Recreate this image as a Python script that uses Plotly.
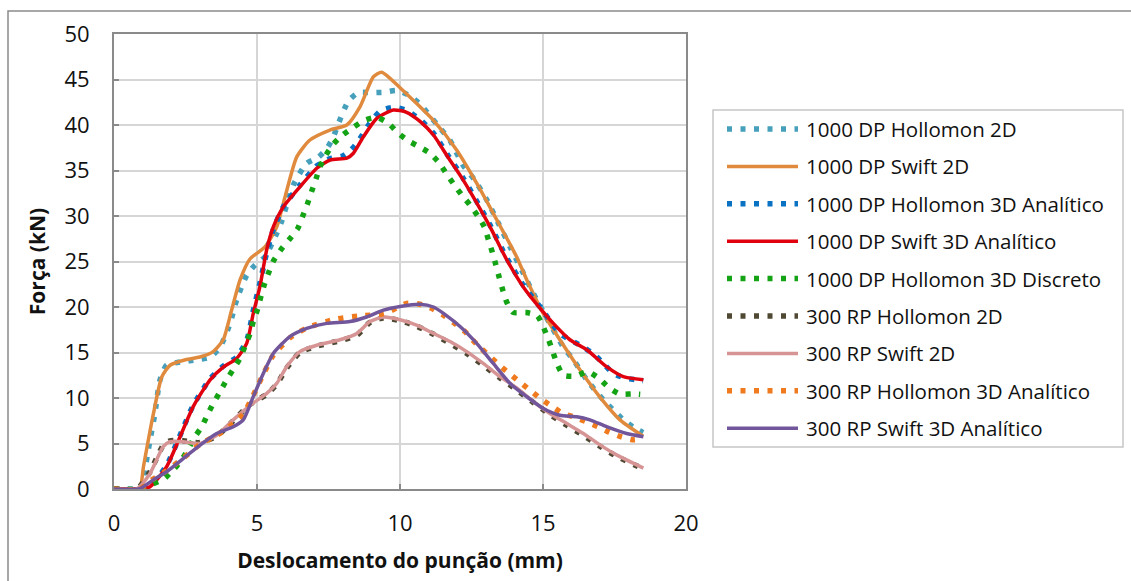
import plotly.graph_objects as go

# ---------------- data ----------------
SERIES_NAMES = [
    "1000 DP Hollomon 2D",
    "1000 DP Swift 2D",
    "1000 DP Hollomon 3D Analítico",
    "1000 DP Swift 3D Analítico",
    "1000 DP Hollomon 3D Discreto",
    "300 RP Hollomon 2D",
    "300 RP Swift 2D",
    "300 RP Hollomon 3D Analítico",
    "300 RP Swift 3D Analítico",
]

X_DP_HOL_2D = [0, 0.9, 1.03, 1.26, 1.43, 1.61, 1.84, 2.42, 2.89, 3.36, 3.71, 4.06, 4.29, 4.64, 4.93,
               5.28, 5.69, 5.86, 6.27, 6.74, 7.14, 7.44, 7.67, 7.84, 8.19, 8.54, 9.01, 9.44, 9.88,
               10.35, 10.7, 11.28, 11.75, 12.2, 12.6, 13.03, 13.44, 13.85, 14.25, 14.66, 15.2,
               15.71, 16.06, 16.53, 17.11, 17.81, 18.2, 18.5]
Y_DP_HOL_2D = [0, 0, 1.35, 5.4, 8.3, 12.0, 13.6, 14.0, 14.2, 14.5, 15.6, 18.2, 20.8, 23.5, 24.6,
               25.5, 28.1, 29.4, 33.4, 35.8, 36.45, 37.4, 38.7, 40.1, 42.6, 43.55, 43.55, 43.6, 43.8,
               43.2, 42.3, 40.1, 38.3, 35.6, 34.0, 31.8, 29.2, 26.6, 24.1, 21.5, 18.4,
               15.6, 14.2, 12.0, 9.8, 7.6, 6.7, 6.2]

X_DP_SWI_2D = [0, 0.5, 0.9, 1.03, 1.38, 1.67, 1.96, 2.5, 3.0, 3.47, 3.82, 4.1, 4.41, 4.76, 5.28,
               5.69, 5.98, 6.39, 6.85, 7.55, 8.14, 8.6, 9.07, 9.36, 10.0, 11.17, 11.98, 12.68,
               13.38, 14.08, 14.43, 15.01, 15.59, 16.29, 16.99, 17.69, 18.5]
Y_DP_SWI_2D = [0, 0, 0.1, 2.45, 8.3, 12.3, 13.6, 14.2, 14.5, 15.1, 16.4, 19.5, 23.0, 25.3, 26.6,
               28.8, 32.1, 36.5, 38.35, 39.45, 40.0, 42.0, 45.3, 45.8, 44.1, 40.5, 37.25, 33.6,
               29.6, 25.5, 23.0, 19.3, 16.4, 13.1, 10.1, 7.6, 5.8]

X_DP_HOL_3DA = [0, 0.8, 1.26, 1.84, 2.31, 2.77, 3.36, 3.82, 4.29, 4.64, 4.87, 5.1, 5.34, 5.57, 5.92,
                6.5, 7.09, 7.55, 8.0, 8.3, 8.54, 8.9, 9.3, 9.77, 10.23, 10.7, 11.17, 11.69, 12.2,
                12.56, 13.15, 13.73, 14.31, 14.9, 15.59, 16.41, 16.82, 17.11, 17.46, 17.92, 18.33, 18.5]
Y_DP_HOL_3DA = [0, 0, 0.3, 2.6, 5.9, 9.2, 12.1, 13.5, 14.5, 16.3, 19.6, 22.6, 26.0, 28.5, 31.0,
                33.4, 35.5, 36.3, 36.6, 37.3, 38.2, 40.0, 41.5, 41.95, 41.6, 40.6, 39.1, 36.6, 34.2,
                32.3, 29.0, 25.4, 22.4, 20.0, 17.1, 15.6, 14.7, 13.8, 12.7, 12.15, 12.0, 11.9]

X_DP_SWI_3DA = [0, 0.8, 1.26, 1.84, 2.31, 2.77, 3.36, 3.82, 4.29, 4.64, 4.87, 5.1, 5.34, 5.57, 5.92,
                6.5, 7.09, 7.55, 8.14, 8.37, 8.72, 9.18, 9.77, 10.23, 10.7, 11.17, 11.69, 12.2,
                12.56, 13.15, 13.73, 14.31, 14.9, 15.36, 15.94, 16.53, 17.22, 17.81, 18.51]
Y_DP_SWI_3DA = [0, 0, 0.25, 2.45, 5.75, 9.05, 12.0, 13.4, 14.35, 16.0, 19.3, 22.2, 26.3, 28.8, 31.0,
                33.2, 35.25, 36.15, 36.35, 36.9, 38.7, 40.7, 41.65, 41.4, 40.4, 38.9, 36.4, 34.0,
                32.1, 28.8, 25.2, 22.2, 19.85, 18.2, 16.4, 15.3, 13.45, 12.35, 12.0]

X_DP_HOL_3DD = [0, 0.9, 1.26, 1.72, 2.07, 2.37, 2.83, 3.07, 3.26, 3.47, 3.71, 3.94, 4.17, 4.41, 4.58,
                4.76, 4.87, 5.02, 5.14, 5.26, 5.43, 5.59, 5.86, 6.15, 6.42, 6.6, 6.76, 6.91, 7.06,
                7.2, 7.41, 7.67, 7.99, 8.37, 8.74, 9.18, 9.59, 9.92, 10.27, 10.68, 11.05, 11.38,
                11.63, 11.89, 12.16, 12.45, 12.72, 12.95, 13.09, 13.23, 13.35, 13.47, 13.59, 13.73,
                13.96, 14.41, 14.8, 15.01, 15.19, 15.34, 15.5, 15.71, 16.15, 16.56, 16.96, 17.28,
                17.67, 18.13, 18.4]
Y_DP_HOL_3DD = [0, 0, 0.45, 1.05, 2.1, 3.2, 5.75, 6.85, 8.1, 9.4, 10.7, 12.0, 13.15, 14.4, 15.7,
                17.1, 18.4, 19.75, 21.2, 22.5, 23.95, 25.15, 26.4, 27.5, 28.6, 30.0, 31.3, 32.7, 34.05,
                35.4, 36.7, 37.9, 38.9, 39.75, 40.5, 40.85, 40.2, 39.15, 38.3, 37.6, 36.9, 35.8,
                34.6, 33.45, 32.3, 31.2, 30.0, 28.8, 27.4, 26.0, 24.65, 23.25, 21.9, 20.55,
                19.4, 19.4, 19.05, 17.8, 16.45, 15.1, 13.7, 12.5, 12.4, 12.9, 12.15, 11.2,
                10.45, 10.45, 10.4]

X_RP_HOL_2D = [0, 0.8, 1.26, 1.72, 1.96, 2.42, 3.0, 3.59, 4.17, 4.76, 5.34, 5.69, 6.04, 6.5, 7.09,
               7.9, 8.49, 8.95, 9.42, 10.0, 10.58, 11.17, 11.75, 12.33, 12.91, 13.5, 14.08, 14.66,
               15.24, 15.83, 16.41, 16.99, 17.57, 18.51]
Y_RP_HOL_2D = [0, 0, 1.9, 4.8, 5.3, 5.3, 5.1, 5.8, 7.5, 9.3, 10.4, 11.5, 13.3, 15.0, 15.7,
               16.3, 16.9, 18.3, 18.8, 18.5, 17.9, 17.0, 16.0, 14.9, 13.6, 12.2, 10.9, 9.5,
               8.2, 7.0, 5.9, 4.7, 3.6, 2.2]

X_RP_SWI_2D = [0, 0.79, 1.26, 1.72, 1.96, 2.42, 3.0, 3.59, 4.17, 4.76, 5.34, 5.69, 6.04, 6.5, 7.09,
               7.9, 8.49, 8.95, 9.42, 10.0, 10.58, 11.17, 11.75, 12.33, 12.91, 13.5, 14.08, 14.66,
               15.24, 15.83, 16.41, 16.99, 17.57, 18.51]
Y_RP_SWI_2D = [0, 0, 1.7, 4.65, 5.2, 5.2, 5.0, 5.9, 7.6, 9.2, 10.5, 11.6, 13.45, 15.1, 15.8,
               16.4, 17.1, 18.4, 18.9, 18.6, 18.0, 17.1, 16.2, 15.1, 13.8, 12.35, 11.1, 9.6,
               8.3, 7.2, 6.1, 4.85, 3.75, 2.3]

X_RP_HOL_3DA = [0, 0.9, 1.37, 1.84, 2.42, 3.0, 3.59, 4.17, 4.52, 4.87, 5.22, 5.57, 6.15, 6.74, 7.73,
                8.54, 9.48, 10.23, 10.7, 11.1, 11.52, 11.87, 12.27, 12.56, 12.85, 13.2, 13.55, 13.9,
                14.25, 14.57, 14.93, 15.3, 15.69, 16.1, 16.5, 16.91, 17.31, 17.72, 18.16, 18.5]
Y_RP_HOL_3DA = [0, 0, 1.1, 2.0, 3.4, 4.9, 5.9, 7.2, 8.2, 10.3, 12.6, 14.7, 16.6, 17.7, 18.65,
                19.0, 19.3, 20.4, 20.3, 19.85, 19.1, 18.3, 17.3, 16.3, 15.4, 14.4, 13.4, 12.5,
                11.6, 10.8, 9.9, 9.1, 8.3, 7.9, 7.4, 6.85, 6.25, 5.75, 5.4, 5.55]

X_RP_SWI_3DA = [0, 0.91, 1.37, 1.84, 2.42, 3.0, 3.59, 4.17, 4.52, 4.87, 5.22, 5.57, 6.15, 6.74, 7.44,
                8.25, 8.83, 9.42, 10.0, 10.7, 11.17, 11.52, 12.1, 12.68, 13.26, 13.85, 14.43, 15.01,
                15.59, 16.18, 16.64, 17.22, 17.92, 18.51]
Y_RP_SWI_3DA = [0, 0.05, 1.0, 1.9, 3.35, 4.8, 6.1, 6.85, 7.6, 10.15, 12.7, 14.9, 16.75, 17.65, 18.2,
                18.4, 18.9, 19.65, 20.05, 20.3, 20.0, 19.3, 17.85, 16.0, 13.8, 11.6, 10.15, 8.85,
                8.1, 7.95, 7.6, 6.85, 6.1, 5.75]

X_TICKS = [0, 5, 10, 15, 20]
Y_TICKS = [0, 5, 10, 15, 20, 25, 30, 35, 40, 45, 50]
X_TITLE = "Deslocamento do punção (mm)"
Y_TITLE = "Força (kN)"

# ---------------- styling ----------------
XS = [X_DP_HOL_2D, X_DP_SWI_2D, X_DP_HOL_3DA, X_DP_SWI_3DA, X_DP_HOL_3DD,
      X_RP_HOL_2D, X_RP_SWI_2D, X_RP_HOL_3DA, X_RP_SWI_3DA]
YS = [Y_DP_HOL_2D, Y_DP_SWI_2D, Y_DP_HOL_3DA, Y_DP_SWI_3DA, Y_DP_HOL_3DD,
      Y_RP_HOL_2D, Y_RP_SWI_2D, Y_RP_HOL_3DA, Y_RP_SWI_3DA]
COLORS = ["#46A0BC", "#E08A3E", "#0A72C2", "#E0000E", "#14A314",
          "#4F4833", "#D69494", "#F07B1E", "#72569B"]
DOTTED = [True, False, True, False, True, True, False, True, False]

FONT = "Open Sans"
DOT_DASH = "5px,8.5px"
DOT_W = 5.5
SOLID_W = 3.5

W, H = 1131, 581
PL, PR, PT, PB = 114, 686, 34, 489   # plot area in pixels


def fx(px):
    return (px - PL) / (PR - PL)


def fy(py):
    return (PB - py) / (PB - PT)


fig = go.Figure()
for name, xs, ys, c, dotted in zip(SERIES_NAMES, XS, YS, COLORS, DOTTED):
    fig.add_trace(go.Scatter(
        x=xs, y=ys, name=name, mode="lines",
        line=dict(color=c, width=DOT_W if dotted else SOLID_W,
                  dash=DOT_DASH if dotted else "solid",
                  shape="spline", smoothing=0.6),
        showlegend=False, hoverinfo="x+y+name",
    ))

shapes = [
    # outer chart frame
    dict(type="rect", xref="paper", yref="paper", layer="below",
         x0=fx(8), x1=fx(1145), y0=fy(600), y1=fy(11),
         line=dict(color="#8A8A8A", width=1.5), fillcolor="rgba(0,0,0,0)"),
    # legend box
    dict(type="rect", xref="paper", yref="paper",
         x0=fx(713), x1=fx(1123), y0=fy(447), y1=fy(110),
         line=dict(color="#C6C6C6", width=1.5), fillcolor="white"),
]
annotations = []
ROW0, ROWSTEP = 129, 37.4
for i, (name, c, dotted) in enumerate(zip(SERIES_NAMES, COLORS, DOTTED)):
    yy = fy(ROW0 + ROWSTEP * i)
    shapes.append(dict(type="line", xref="paper", yref="paper",
                       x0=fx(727), x1=fx(798), y0=yy, y1=yy,
                       line=dict(color=c, width=DOT_W if dotted else SOLID_W,
                                 dash=DOT_DASH if dotted else "solid")))
    annotations.append(dict(xref="paper", yref="paper", x=fx(804), y=yy,
                            xanchor="left", yanchor="middle", showarrow=False,
                            text=name, font=dict(family=FONT, size=20.5, color="#111111")))

axis_common = dict(
    showgrid=True, gridcolor="#D6D6D6", gridwidth=1.5,
    showline=True, linecolor="#8A8A8A", linewidth=2, mirror=True,
    ticks="inside", ticklen=5, tickcolor="#8A8A8A", tickwidth=1.5,
    zeroline=False,
    tickfont=dict(family=FONT, size=22, color="#111111"),
)

fig.update_layout(
    width=W, height=H, autosize=False,
    margin=dict(l=PL, r=W - PR, t=PT, b=H - PB, pad=0),
    paper_bgcolor="white", plot_bgcolor="white",
    showlegend=False,
    xaxis=dict(range=[0, 20], tickvals=X_TICKS, ticklabelstandoff=14,
               title=dict(text=X_TITLE, standoff=17,
                          font=dict(family=FONT, size=21, weight="bold", color="#111111")),
               **axis_common),
    yaxis=dict(range=[0, 50], tickvals=Y_TICKS, ticklabelstandoff=18,
               title=dict(text=Y_TITLE, standoff=13,
                          font=dict(family=FONT, size=21, weight="bold", color="#111111")),
               **axis_common),
    shapes=shapes,
    annotations=annotations,
)

fig.write_html("out.html")
